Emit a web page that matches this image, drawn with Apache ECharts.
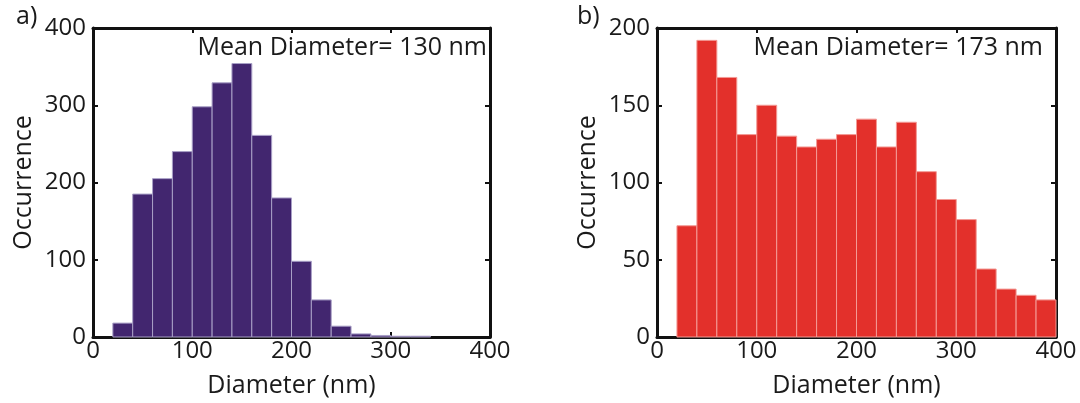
<!DOCTYPE html>
<html>
<head>
<meta charset="utf-8">
<script src="https://cdn.jsdelivr.net/npm/echarts@6/dist/echarts.min.js"></script>
<style>
html,body{margin:0;padding:0;background:#fff;}
#c{width:1080px;height:403px;}
</style>
</head>
<body>
<div id="c"></div>
<script>
// ---- data ----
const binStartsA = [20,40,60,80,100,120,140,160,180,200,220,240,260,280,300,320];
const countsA    = [18,185,205,240,298,329,354,261,180,98,48,14,4,2,1,1];
const binStartsB = [20,40,60,80,100,120,140,160,180,200,220,240,260,280,300,320,340,360,380];
const countsB    = [72,192,168,131,150,130,123,128,131,141,123,139,107,89,76,44,31,27,24];
const binWidth = 20;
const xTicks = [0,100,200,300,400];
const yTicksA = [0,100,200,300,400];
const yTicksB = [0,50,100,150,200];
const meanA = 'Mean Diameter= 130 nm';
const meanB = 'Mean Diameter= 173 nm';
const panelA = 'a)';
const panelB = 'b)';
const xName = 'Diameter (nm)';
const yName = 'Occurrence';

const FONT = 'Open Sans';
const chart = echarts.init(document.getElementById('c'), null, {renderer:'canvas'});

function histData(starts, counts){
  return starts.map((s,i)=>[s, s+binWidth, counts[i]]);
}
function renderHist(fill, stroke){
  return function(params, api){
    const p0 = api.coord([api.value(0), 0]);
    const p1 = api.coord([api.value(1), api.value(2)]);
    return {
      type:'rect',
      shape:{x:p0[0], y:p1[1], width:p1[0]-p0[0], height:p0[1]-p1[1]},
      style:{fill:fill, stroke:stroke, lineWidth:1}
    };
  };
}
const axisLine = {show:true, onZero:false, lineStyle:{color:'#111', width:3}};
const tick = {show:true, inside:true, length:5, lineStyle:{color:'#111', width:2}};
const lbl = {color:'#1a1a1a', fontFamily:FONT, fontSize:24};
const nameStyle = {color:'#1a1a1a', fontFamily:FONT, fontSize:25};

function mainX(gi){
  return {type:'value', gridIndex:gi, min:xTicks[0], max:xTicks[xTicks.length-1], interval:100,
    position:'bottom', axisLine:axisLine, axisTick:tick, splitLine:{show:false},
    axisLabel:Object.assign({margin:2}, lbl),
    name:xName, nameLocation:'middle', nameGap:36, nameTextStyle:nameStyle};
}
function topX(gi){
  return {type:'value', gridIndex:gi, min:xTicks[0], max:xTicks[xTicks.length-1], interval:100,
    position:'top', axisLine:axisLine, axisTick:tick, axisLabel:{show:false}, splitLine:{show:false}};
}
function mainY(gi, ticks){
  return {type:'value', gridIndex:gi, min:ticks[0], max:ticks[ticks.length-1], interval:ticks[1]-ticks[0],
    position:'left', axisLine:axisLine, axisTick:tick, splitLine:{show:false},
    axisLabel:Object.assign({margin:7}, lbl),
    name:yName, nameLocation:'middle', nameGap:57, nameTextStyle:nameStyle};
}
function rightY(gi, ticks){
  return {type:'value', gridIndex:gi, min:ticks[0], max:ticks[ticks.length-1], interval:ticks[1]-ticks[0],
    position:'right', axisLine:axisLine, axisTick:tick, axisLabel:{show:false}, splitLine:{show:false}};
}

chart.setOption({
  animation:false,
  backgroundColor:'#ffffff',
  grid:[
    {left:93, top:28, width:397, height:311},
    {left:657, top:28, width:399, height:311}
  ],
  xAxis:[mainX(0), topX(0), mainX(1), topX(1)],
  yAxis:[mainY(0,yTicksA), rightY(0,yTicksA), mainY(1,yTicksB), rightY(1,yTicksB)],
  series:[
    {type:'custom', xAxisIndex:0, yAxisIndex:0, data:histData(binStartsA,countsA),
      renderItem:renderHist('#42266f','#a89fc6'), encode:{x:[0,1], y:2}},
    {type:'custom', xAxisIndex:2, yAxisIndex:2, data:histData(binStartsB,countsB),
      renderItem:renderHist('#e3302b','#f39a95'), encode:{x:[0,1], y:2}}
  ],
  graphic:[
    {type:'text', left:16, top:4, style:{text:panelA, font:'25px "'+FONT+'"', fill:'#1a1a1a'}},
    {type:'text', left:577, top:4, style:{text:panelB, font:'25px "'+FONT+'"', fill:'#1a1a1a'}},
    {type:'text', right:1080-487, top:35, style:{text:meanA, font:'25px "'+FONT+'"', fill:'#1a1a1a'}},
    {type:'text', right:1080-1043, top:35, style:{text:meanB, font:'25px "'+FONT+'"', fill:'#1a1a1a'}}
  ]
});
</script>
</body>
</html>
